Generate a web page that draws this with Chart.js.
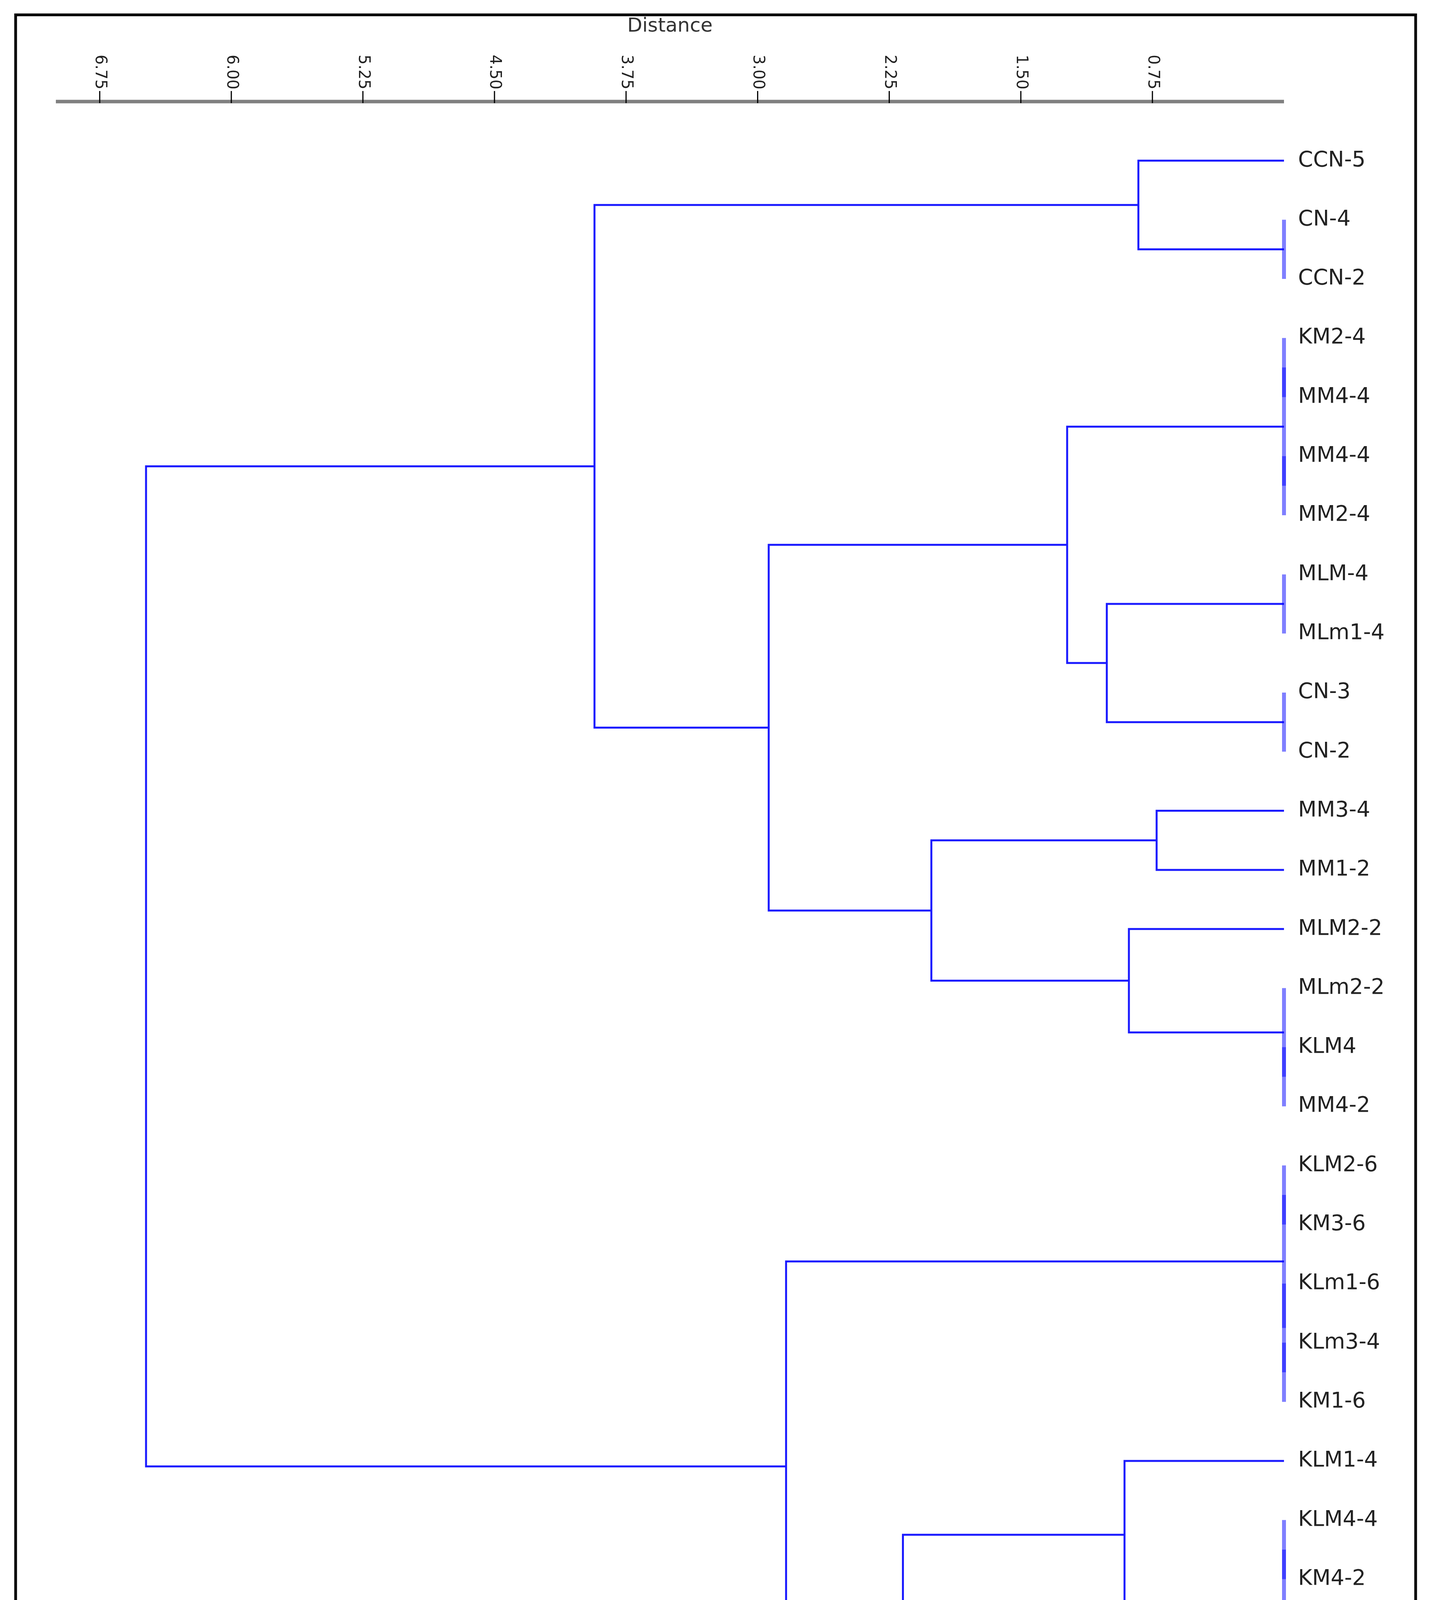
<!DOCTYPE html>
<html>
<head>
  <title>Dendrogram</title>
  <meta charset="utf-8" />
  <script src="https://cdn.jsdelivr.net/npm/chart.js"></script>
  <style>
    body {
      margin: 0;
      padding: 0;
      background: #fff;
    }
    #wrap {
      position: relative;
      width: 3671px;
      height: 5095px;
    }
  </style>
</head>
<body>
  <div id="wrap"><canvas id="chart"></canvas></div>

  <script>
    // leaves, top to bottom
    const leafLabels = [
      'CCN-5', 'CN-4', 'CCN-2', 'KM2-4', 'MM4-4', 'MM4-4', 'MM2-4', 'MLM-4',
      'MLm1-4', 'CN-3', 'CN-2', 'MM3-4', 'MM1-2', 'MLM2-2', 'MLm2-2', 'KLM4',
      'MM4-2', 'KLM2-6', 'KM3-6', 'KLm1-6', 'KLm3-4', 'KM1-6', 'KLM1-4', 'KLM4-4',
      'KM4-2', 'KM4-6', 'KLM1-2', 'KM3-4', 'KM1-4', 'KLM2-4', 'KM4-4'
    ];

    // linkage: merge k joins mergeLeft[k] and mergeRight[k] into node 31 + k
    const mergeLeft = [1, 0, 3, 5, 33, 7, 9, 36, 35, 11, 15, 14, 13, 40, 39,
                       32, 17, 20, 19, 47, 23, 25, 51, 22, 29, 28, 27, 54, 50, 46];
    const mergeRight = [2, 31, 4, 6, 34, 8, 10, 37, 38, 12, 16, 41, 42, 43, 44,
                        45, 18, 21, 48, 49, 24, 26, 52, 53, 30, 55, 56, 57, 58, 59];
    const mergeDistance = [0, 0.83, 0, 0, 0, 0, 0, 1.01, 1.236, 0.726, 0, 0, 0.884, 2.01, 2.937,
                           3.93, 0, 0, 0, 0, 0, 0, 0, 0.909, 0, 0, 1.234, 2.172, 2.838, 6.486];

    const distanceTicks = [0.75, 1.5, 2.25, 3.0, 3.75, 4.5, 5.25, 6.0, 6.75];

    // build the elbow links
    const nodeY = leafLabels.map((_, i) => i);
    const nodeH = leafLabels.map(() => 0);
    const datasets = [];
    mergeLeft.forEach((a, k) => {
      const b = mergeRight[k];
      const h = mergeDistance[k];
      const zero = h === 0;
      datasets.push({
        data: [
          { x: nodeH[a], y: nodeY[a] },
          { x: h, y: nodeY[a] },
          { x: h, y: nodeY[b] },
          { x: nodeH[b], y: nodeY[b] }
        ],
        borderColor: zero ? 'rgba(0,0,255,0.5)' : '#1a1aff',
        borderWidth: zero ? 10 : 5,
        borderCapStyle: 'butt',
        borderJoinStyle: 'miter',
        pointRadius: 0,
        tension: 0,
        fill: false,
        clip: false
      });
      nodeY.push((nodeY[a] + nodeY[b]) / 2);
      nodeH.push(h);
    });

    const axisPlugin = {
      id: 'axisPlugin',
      afterDraw(chart) {
        const ctx = chart.ctx;
        const xs = chart.scales.x;
        const axisY = chart.chartArea.top;
        ctx.save();
        // axis line
        ctx.strokeStyle = '#808080';
        ctx.lineWidth = 9;
        ctx.beginPath();
        ctx.moveTo(xs.getPixelForValue(7), axisY);
        ctx.lineTo(xs.getPixelForValue(0), axisY);
        ctx.stroke();
        // ticks + rotated labels
        ctx.strokeStyle = '#000';
        ctx.lineWidth = 3;
        ctx.fillStyle = '#222';
        ctx.font = '40px "DejaVu Sans"';
        ctx.textAlign = 'right';
        ctx.textBaseline = 'middle';
        xs.ticks.forEach(t => {
          const px = xs.getPixelForValue(t.value);
          ctx.beginPath();
          ctx.moveTo(px, axisY + 4);
          ctx.lineTo(px, axisY - 27);
          ctx.stroke();
          ctx.save();
          ctx.translate(px, axisY - 31);
          ctx.rotate(Math.PI / 2);
          ctx.fillText(t.value.toFixed(2), 0, 0);
          ctx.restore();
        });
        // frame
        ctx.strokeStyle = '#000';
        ctx.lineWidth = 7;
        ctx.strokeRect(40, 38, 3584, 5021);
        ctx.restore();
      }
    };

    const ctx = document.getElementById('chart').getContext('2d');
    new Chart(ctx, {
      type: 'line',
      data: { datasets: datasets },
      plugins: [axisPlugin],
      options: {
        responsive: true,
        maintainAspectRatio: false,
        animation: false,
        layout: { padding: { left: 143, right: 0, top: 0, bottom: 19 } },
        plugins: {
          legend: { display: false },
          tooltip: { enabled: false }
        },
        scales: {
          x: {
            type: 'linear',
            position: 'top',
            min: 0,
            max: 7,
            reverse: true,
            afterBuildTicks: s => { s.ticks = distanceTicks.map(v => ({ value: v })); },
            afterFit: s => { s.height = 260; },
            ticks: { display: false },
            grid: { display: false, drawTicks: false },
            border: { display: false },
            title: {
              display: true,
              text: 'Distance',
              color: '#333',
              font: { family: 'DejaVu Sans', size: 50 },
              padding: { top: 38, bottom: 0 }
            }
          },
          y: {
            type: 'linear',
            position: 'right',
            min: -1,
            max: 30.5,
            reverse: true,
            afterBuildTicks: s => { s.ticks = leafLabels.map((_, i) => ({ value: i })); },
            afterFit: s => { s.width = 384; },
            ticks: {
              autoSkip: false,
              padding: 36,
              color: '#222',
              font: { family: 'DejaVu Sans', size: 55 },
              callback: v => leafLabels[v]
            },
            grid: { display: false, drawTicks: false },
            border: { display: false }
          }
        }
      }
    });
  </script>
</body>
</html>
